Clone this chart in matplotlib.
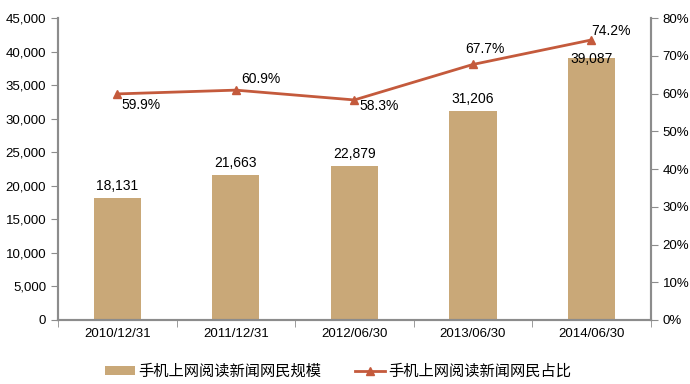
import matplotlib
matplotlib.use("Agg")
import matplotlib.pyplot as plt
from matplotlib.ticker import FuncFormatter, MultipleLocator

categories = ["2010/12/31", "2011/12/31", "2012/06/30", "2013/06/30", "2014/06/30"]
users = [18131, 21663, 22879, 31206, 39087]
share = [59.9, 60.9, 58.3, 67.7, 74.2]
bar_name = "手机上网阅读新闻网民规模"
line_name = "手机上网阅读新闻网民占比"

plt.rcParams['font.family'] = ['Liberation Sans', 'Noto Sans CJK SC', 'DejaVu Sans']

bar_color = "#C9A878"
line_color = "#C45A3C"
spine_color = "#8C8C8C"

fig = plt.figure(figsize=(6.9, 3.84), dpi=100)
ax = fig.add_axes([0.084, 0.1667, 0.859, 0.7863])
x = list(range(len(categories)))
bars = ax.bar(x, users, width=0.40, color=bar_color, zorder=2, label=bar_name)
ax.set_xlim(-0.5, len(categories) - 0.5)
ax.set_ylim(0, 45000)
ax.yaxis.set_major_locator(MultipleLocator(5000))
ax.yaxis.set_major_formatter(FuncFormatter(lambda v, p: f"{int(v):,}"))
ax.set_xticks(x)
ax.set_xticklabels(categories)
ax.set_xticks([i + 0.5 for i in range(len(categories) - 1)] + [-0.5, len(categories) - 0.5], minor=True)
ax.tick_params(axis='x', which='major', length=0, labelsize=9.5, pad=6)
ax.tick_params(axis='x', which='minor', length=5, color=spine_color, direction='out')
ax.tick_params(axis='y', length=5, color=spine_color, labelsize=9.5, direction='out')

bar_offsets = [12, 12, 12, 12, -1]
for b, v, off in zip(bars, users, bar_offsets):
    ax.annotate(f"{v:,}", (b.get_x() + b.get_width() / 2, v), xytext=(0, off),
                textcoords="offset pixels", ha="center", va="center", fontsize=10)

ax2 = ax.twinx()
ax2.set_ylim(0, 80)
ax2.yaxis.set_major_locator(MultipleLocator(10))
ax2.yaxis.set_major_formatter(FuncFormatter(lambda v, p: f"{int(v)}%"))
ax2.tick_params(axis='y', length=5, color=spine_color, labelsize=9.5, direction='out')
ax2.plot(x, share, color=line_color, lw=2, marker='^', markersize=6, label=line_name, zorder=3)

offsets = [(24, -11), (25, 11), (25, -6), (12, 15), (20, 9)]
for xi, v, off in zip(x, share, offsets):
    ax2.annotate(f"{v:.1f}%", (xi, v), xytext=off, textcoords="offset pixels",
                 ha="center", va="center", fontsize=10)

for a in (ax, ax2):
    a.spines['top'].set_visible(False)
    for s in ('left', 'right', 'bottom'):
        a.spines[s].set_color(spine_color)
        a.spines[s].set_linewidth(1.5)

h1, l1 = ax.get_legend_handles_labels()
h2, l2 = ax2.get_legend_handles_labels()
fig.legend(h1 + h2, l1 + l2, loc='lower center', bbox_to_anchor=(0.49, -0.025), ncol=2,
           frameon=False, prop={'family': ['Noto Sans CJK SC'], 'size': 11},
           handlelength=2.0, handleheight=0.55, columnspacing=2.2, handletextpad=0.2)

fig.savefig("out.png", dpi=100)
